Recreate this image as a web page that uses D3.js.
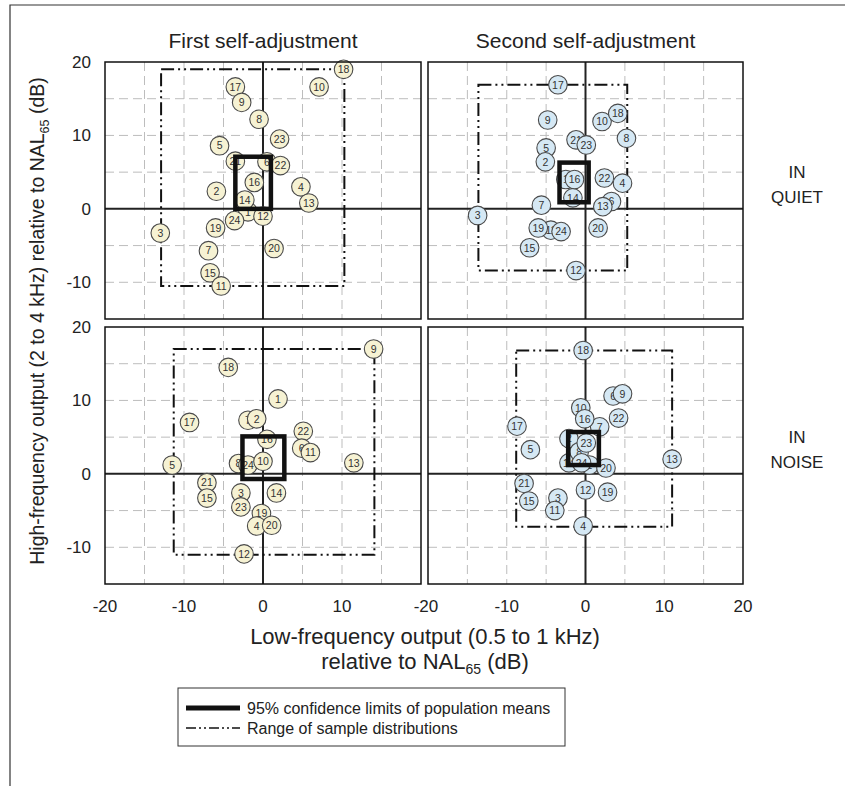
<!DOCTYPE html>
<html><head><meta charset="utf-8">
<script src="https://cdn.jsdelivr.net/npm/d3@7"></script>
<style>body{margin:0;background:#fff}svg{display:block;font-family:"Liberation Sans",Arial,sans-serif}</style>
</head><body><svg id="c" width="845" height="786"></svg>
<script>
// ---- data ----
const columnTitles = ["First self-adjustment", "Second self-adjustment"];
const rowLabels = [["IN", "QUIET"], ["IN", "NOISE"]];
const xTicks = [-20, -10, 0, 10, 20];
const yTicks = [20, 10, 0, -10];
const gridVals = [-15, -10, -5, 5, 10, 15];

// Quiet, first self-adjustment
const idsQ1 = [1, 21, 6, 17, 9, 8, 5, 16, 18, 10, 23, 22, 4, 2, 13, 14, 12, 24, 19, 3, 20, 7, 15, 11];
const lfQ1 = [-1.9, -3.5, 0.5, -3.5, -2.7, -0.5, -5.5, -1.1, 10.2, 7.1, 2.1, 2.2, 4.8, -5.9, 5.8, -2.3, 0.0, -3.6, -6.0, -13.0, 1.4, -6.9, -6.7, -5.3];
const hfQ1 = [-0.4, 6.5, 6.4, 16.6, 14.5, 12.2, 8.6, 3.6, 19.0, 16.6, 9.5, 5.9, 3.0, 2.4, 0.8, 1.2, -1.0, -1.6, -2.6, -3.3, -5.4, -5.7, -8.7, -10.5];
const ciQ1 = [-3.5, 1.0, 0.0, 7.1];
const rangeQ1 = [-12.9, 10.3, -10.5, 19.0];

// Quiet, second self-adjustment
const idsQ2 = [21, 1, 6, 11, 14, 17, 9, 5, 2, 23, 16, 10, 18, 8, 22, 4, 7, 13, 3, 19, 24, 20, 15, 12];
const lfQ2 = [-1.2, -2.5, 3.3, -4.4, -1.6, -3.5, -4.8, -5.0, -5.1, 0.1, -1.4, 2.1, 4.1, 5.2, 2.4, 4.7, -5.6, 2.2, -13.7, -6.0, -3.1, 1.6, -7.1, -1.2];
const hfQ2 = [9.4, 4.0, 1.0, -2.9, 1.5, 16.9, 12.1, 8.3, 6.4, 8.7, 4.0, 11.9, 13.0, 9.6, 4.2, 3.5, 0.5, 0.3, -0.9, -2.6, -3.1, -2.6, -5.3, -8.4];
const ciQ2 = [-3.3, 0.4, 0.9, 6.3];
const rangeQ2 = [-13.6, 5.3, -8.4, 16.9];

// Noise, first self-adjustment
const idsN1 = [8, 16, 18, 17, 7, 2, 9, 1, 22, 6, 11, 13, 5, 24, 10, 21, 15, 3, 14, 23, 19, 4, 20, 12];
const lfN1 = [-3.1, 0.5, -4.4, -9.3, -1.9, -0.8, 14.0, 1.9, 5.1, 4.9, 6.0, 11.5, -11.5, -1.9, 0.0, -7.1, -7.1, -2.8, 1.7, -2.8, -0.2, -0.8, 1.1, -2.4];
const hfN1 = [1.4, 4.7, 14.5, 7.0, 7.3, 7.5, 17.0, 10.2, 5.8, 3.5, 2.9, 1.5, 1.2, 1.2, 1.7, -1.2, -3.3, -2.6, -2.6, -4.5, -5.4, -7.1, -7.0, -10.9];
const ciN1 = [-2.6, 2.7, -0.7, 5.1];
const rangeN1 = [-11.3, 14.1, -11.0, 17.0];

// Noise, second self-adjustment
const idsN2 = [10, 7, 2, 14, 1, 8, 18, 17, 5, 16, 6, 9, 22, 23, 24, 13, 20, 21, 15, 3, 11, 12, 19, 4];
const lfN2 = [-0.6, 1.8, -2.1, -2.1, 0.5, -0.8, -0.3, -8.7, -7.0, -0.1, 3.5, 4.7, 4.2, 0.1, -0.5, 11.0, 2.6, -7.8, -7.2, -3.5, -3.9, 0.0, 2.8, -0.3];
const hfN2 = [9.0, 6.4, 4.8, 1.5, 1.2, 3.0, 16.8, 6.5, 3.3, 7.5, 10.6, 10.9, 7.6, 4.2, 1.5, 2.0, 0.8, -1.3, -3.7, -3.3, -5.0, -2.2, -2.5, -7.1];
const ciN2 = [-2.2, 1.7, 1.2, 5.7];
const rangeN2 = [-8.8, 11.0, -7.2, 16.8];

const legendLabels = ["95% confidence limits of population means", "Range of sample distributions"];

// ---- layout ----
const svg = d3.select("#c");
const xL = d3.scaleLinear().domain([-20, 20]).range([105, 421]);
const xR = d3.scaleLinear().domain([-20, 20]).range([428, 743]);
const yT = d3.scaleLinear().domain([-15, 20]).range([319, 62]);
const yB = d3.scaleLinear().domain([-15, 20]).range([584, 327]);
const rangeDash = "13,4,2,4,2,4";

// outer frame
svg.append("path").attr("d", "M10,786V5H845").attr("fill", "none").attr("stroke", "#333").attr("stroke-width", 1.2);

const panels = [
  {x: xL, y: yT, ids: idsQ1, lf: lfQ1, hf: hfQ1, ci: ciQ1, rg: rangeQ1, fill: "#f6f2d3"},
  {x: xR, y: yT, ids: idsQ2, lf: lfQ2, hf: hfQ2, ci: ciQ2, rg: rangeQ2, fill: "#d5e8f4"},
  {x: xL, y: yB, ids: idsN1, lf: lfN1, hf: hfN1, ci: ciN1, rg: rangeN1, fill: "#f6f2d3"},
  {x: xR, y: yB, ids: idsN2, lf: lfN2, hf: hfN2, ci: ciN2, rg: rangeN2, fill: "#d5e8f4"}
];

panels.forEach(p => {
  const g = svg.append("g");
  const [x0, x1] = p.x.range(), [y1, y0] = p.y.range();
  // grid
  g.selectAll(".gx").data(gridVals).enter().append("line")
    .attr("x1", d => p.x(d)).attr("x2", d => p.x(d)).attr("y1", y0).attr("y2", y1)
    .attr("stroke", "#bdbdbd").attr("stroke-width", 1).attr("stroke-dasharray", "9,5");
  g.selectAll(".gy").data(gridVals.filter(v => v > -15)).enter().append("line")
    .attr("y1", d => p.y(d)).attr("y2", d => p.y(d)).attr("x1", x0).attr("x2", x1)
    .attr("stroke", "#bdbdbd").attr("stroke-width", 1).attr("stroke-dasharray", "9,5");
  // zero lines
  g.append("line").attr("x1", p.x(0)).attr("x2", p.x(0)).attr("y1", y0).attr("y2", y1).attr("stroke", "#222").attr("stroke-width", 2);
  g.append("line").attr("x1", x0).attr("x2", x1).attr("y1", p.y(0)).attr("y2", p.y(0)).attr("stroke", "#222").attr("stroke-width", 2);
  // range box
  g.append("rect").attr("x", p.x(p.rg[0])).attr("y", p.y(p.rg[3]))
    .attr("width", p.x(p.rg[1]) - p.x(p.rg[0])).attr("height", p.y(p.rg[2]) - p.y(p.rg[3]))
    .attr("fill", "none").attr("stroke", "#111").attr("stroke-width", 2).attr("stroke-dasharray", rangeDash);
  // points
  const pts = p.ids.map((id, i) => ({id, lf: p.lf[i], hf: p.hf[i]}));
  const pg = g.selectAll(".pt").data(pts).enter().append("g")
    .attr("transform", d => `translate(${p.x(d.lf)},${p.y(d.hf)})`);
  pg.append("circle").attr("r", 9.3).attr("fill", p.fill).attr("stroke", "#4a4a4a").attr("stroke-width", 1.1);
  pg.append("text").text(d => d.id).attr("text-anchor", "middle").attr("dy", "0.36em")
    .attr("font-size", 10.5).attr("fill", "#333");
  // CI box
  g.append("rect").attr("x", p.x(p.ci[0])).attr("y", p.y(p.ci[3]))
    .attr("width", p.x(p.ci[1]) - p.x(p.ci[0])).attr("height", p.y(p.ci[2]) - p.y(p.ci[3]))
    .attr("fill", "none").attr("stroke", "#111").attr("stroke-width", 4.5);
  // border
  g.append("rect").attr("x", x0).attr("y", y0).attr("width", x1 - x0).attr("height", y1 - y0)
    .attr("fill", "none").attr("stroke", "#111").attr("stroke-width", 1.5);
});

// column titles
[xL, xR].forEach((x, i) => {
  svg.append("text").attr("x", x(0)).attr("y", 48).attr("text-anchor", "middle")
    .attr("font-size", 21).attr("fill", "#222").text(columnTitles[i]);
});
// y tick labels
[yT, yB].forEach(y => {
  svg.selectAll(null).data(yTicks).enter().append("text")
    .attr("x", 91).attr("y", d => y(d)).attr("dy", "0.35em").attr("text-anchor", "end")
    .attr("font-size", 17).attr("fill", "#222").text(d => d);
});
// x tick labels
svg.selectAll(null).data(xTicks.filter(d => d < 20)).enter().append("text")
  .attr("x", d => xL(d)).attr("y", 612).attr("text-anchor", "middle")
  .attr("font-size", 17).attr("fill", "#222").text(d => d);
svg.selectAll(null).data(xTicks).enter().append("text")
  .attr("x", d => d === -20 ? xR(d) - 2 : xR(d)).attr("y", 612).attr("text-anchor", "middle")
  .attr("font-size", 17).attr("fill", "#222").text(d => d);

// row labels
[yT, yB].forEach((y, i) => {
  rowLabels[i].forEach((t, j) => {
    svg.append("text").attr("x", 797).attr("y", y(0) - 31 + j * 25).attr("text-anchor", "middle")
      .attr("font-size", 17).attr("fill", "#222").text(t);
  });
});

// y axis label
const yl = svg.append("text").attr("transform", "translate(44,321) rotate(-90)").attr("text-anchor", "middle")
  .attr("font-size", 19.5).attr("fill", "#222");
yl.append("tspan").text("High-frequency output (2 to 4 kHz) relative to NAL");
yl.append("tspan").attr("font-size", 12.5).attr("dy", 5).text("65");
yl.append("tspan").attr("dy", -5).text(" (dB)");

// x axis label
svg.append("text").attr("x", 425).attr("y", 644).attr("text-anchor", "middle").attr("font-size", 22).attr("fill", "#222")
  .text("Low-frequency output (0.5 to 1 kHz)");
const xl2 = svg.append("text").attr("x", 425).attr("y", 669).attr("text-anchor", "middle").attr("font-size", 22).attr("fill", "#222");
xl2.append("tspan").text("relative to NAL");
xl2.append("tspan").attr("font-size", 14).attr("dy", 5).text("65");
xl2.append("tspan").attr("dy", -5).text(" (dB)");

// legend
const lg = svg.append("g");
lg.append("rect").attr("x", 178).attr("y", 688).attr("width", 387).attr("height", 58)
  .attr("fill", "#fff").attr("stroke", "#333").attr("stroke-width", 1);
lg.append("line").attr("x1", 186).attr("x2", 240).attr("y1", 708).attr("y2", 708).attr("stroke", "#111").attr("stroke-width", 5);
lg.append("line").attr("x1", 186).attr("x2", 240).attr("y1", 728).attr("y2", 728).attr("stroke", "#111").attr("stroke-width", 1.6).attr("stroke-dasharray", "10,3,2,3,2,3");
legendLabels.forEach((t, i) => {
  lg.append("text").attr("x", 247).attr("y", 708 + i * 20).attr("dy", "0.35em").attr("font-size", 16).attr("fill", "#222").text(t);
});
</script></body></html>
